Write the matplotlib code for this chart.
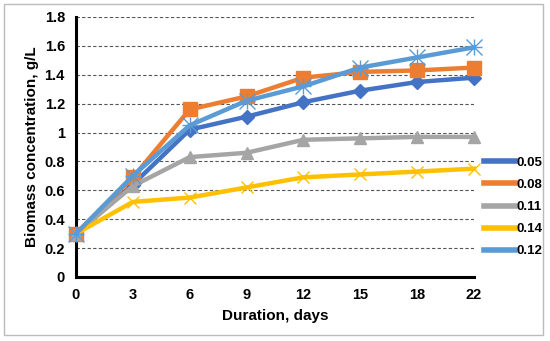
import matplotlib
matplotlib.use("Agg")
import matplotlib.pyplot as plt
from matplotlib.patches import Rectangle

plt.rcParams["font.family"] = ["Liberation Sans", "DejaVu Sans"]
plt.rcParams["font.weight"] = "bold"

# data
days = ["0", "3", "6", "9", "12", "15", "18", "22"]
s005 = [0.30, 0.64, 1.02, 1.11, 1.21, 1.29, 1.35, 1.38]
s008 = [0.30, 0.69, 1.16, 1.25, 1.38, 1.42, 1.43, 1.45]
s011 = [0.30, 0.63, 0.83, 0.86, 0.95, 0.96, 0.97, 0.97]
s014 = [0.30, 0.52, 0.55, 0.62, 0.69, 0.71, 0.73, 0.75]
s012 = [0.30, 0.70, 1.05, 1.22, 1.32, 1.45, 1.52, 1.59]
labels = ["0.05", "0.08", "0.11", "0.14", "0.12"]
yticks = [0, 0.2, 0.4, 0.6, 0.8, 1, 1.2, 1.4, 1.6, 1.8]

series = [s005, s008, s011, s014, s012]
colors = ["#4472C4", "#ED7D31", "#A5A5A5", "#FFC000", "#5B9BD5"]
markers = ["D", "s", "^", "x", "x"]
msizes = [7, 10, 9, 9, 11]

fig = plt.figure(figsize=(5.5, 3.41), dpi=100)
ax = fig.add_axes([76 / 550, 1 - 277 / 341, 398 / 550, 260 / 341])

x = list(range(len(days)))
handles = []
for vals, c, m, ms, lab in zip(series, colors, markers, msizes, labels):
    ax.plot(x, vals, color=c, lw=3.2, marker=m, markersize=ms,
            markeredgewidth=1.0, clip_on=False, zorder=3)
    handles.append(plt.Line2D([], [], color=c, lw=4))
# star for 0.12: add "+" overlay to make asterisk
ax.plot(x, s012, color=colors[4], lw=0, marker="+", markersize=11,
        markeredgewidth=1.0, clip_on=False, zorder=3)

ax.set_xlim(0, len(days) - 1)
ax.set_ylim(0, 1.8)
ax.set_xticks(x)
ax.set_xticklabels(days)
ax.set_yticks(yticks)
ax.set_yticklabels([("%g" % v) for v in yticks])
ax.tick_params(length=0, labelsize=10.5, pad=8)
for lab in ax.get_xticklabels() + ax.get_yticklabels():
    lab.set_fontweight("bold")

ax.yaxis.grid(True, color="#555555", linestyle=(0, (3, 2)), lw=0.8)
ax.set_axisbelow(True)
for s in ["top", "right"]:
    ax.spines[s].set_visible(False)
for s in ["left", "bottom"]:
    ax.spines[s].set_linewidth(2.2)
    ax.spines[s].set_color("black")

ax.set_xlabel("Duration, days", fontsize=11, fontweight="bold", labelpad=5)
ax.set_ylabel("Biomass concentration, g/L", fontsize=11, fontweight="bold", labelpad=4)

leg = fig.legend(handles, labels, loc="center left",
                 bbox_to_anchor=(484 / 550, 1 - 207 / 341), frameon=False,
                 fontsize=9.5, handlelength=2.35, handletextpad=0.15,
                 labelspacing=0.75, borderpad=0, borderaxespad=0)
for t in leg.get_texts():
    t.set_fontweight("bold")

fig.patches.append(Rectangle((4 / 550, 1 - 335 / 341), 539 / 550, 331 / 341,
                             transform=fig.transFigure, fill=False,
                             edgecolor="#BBBBBB", lw=1))

fig.savefig("out.png", dpi=100)
